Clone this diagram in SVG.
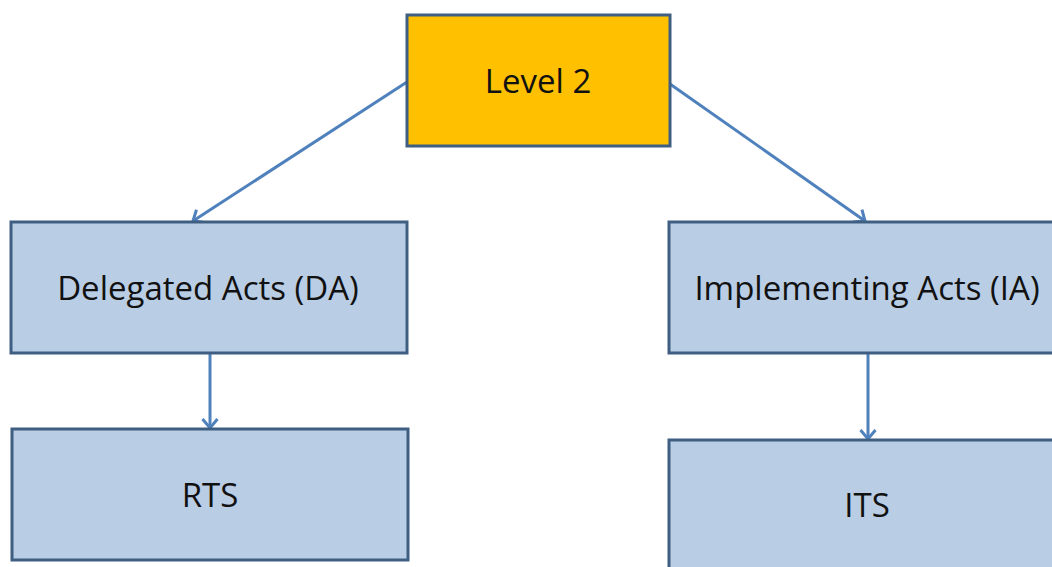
<svg xmlns="http://www.w3.org/2000/svg" width="1052" height="567" viewBox="0 0 1052 567">
<style>
.box{fill:#B9CDE5;stroke:#3E5F82;stroke-width:3}
.top{fill:#FFC000;stroke:#3E5F82;stroke-width:3}
.lbl{font-family:"Open Sans","Liberation Sans",sans-serif;font-size:33px;fill:#111;text-anchor:middle}
.conn{stroke:#4F81BD;stroke-width:3;fill:none;marker-end:url(#ah)}
</style>
<defs>
<marker id="ah" markerWidth="16" markerHeight="18" refX="10" refY="9" orient="auto" markerUnits="userSpaceOnUse" viewBox="0 0 16 18">
<path d="M1,1.5 L10,9 L1,16.5" fill="none" stroke="#4F81BD" stroke-width="3"/>
</marker>
</defs>
<rect width="1052" height="567" fill="#fff"/>
<g id="connectors">
<line class="conn" x1="407" y1="82" x2="193" y2="221"/>
<line class="conn" x1="670" y1="84" x2="865" y2="221"/>
<line class="conn" x1="210" y1="353" x2="210" y2="428"/>
<line class="conn" x1="868" y1="353" x2="868" y2="439"/>
</g>
<g id="level2">
<rect class="top" x="407" y="15" width="263" height="131"/>
<text class="lbl" x="538" y="93">Level 2</text>
</g>
<g id="da">
<rect class="box" x="11" y="222" width="396" height="131"/>
<text class="lbl" x="208" y="300">Delegated Acts (DA)</text>
</g>
<g id="ia">
<rect class="box" x="669" y="222" width="400" height="131"/>
<text class="lbl" x="867" y="300">Implementing Acts (IA)</text>
</g>
<g id="rts">
<rect class="box" x="12" y="429" width="396" height="131"/>
<text class="lbl" x="210" y="507">RTS</text>
</g>
<g id="its">
<rect class="box" x="669" y="440" width="400" height="140"/>
<text class="lbl" x="867" y="517">ITS</text>
</g>
</svg>
